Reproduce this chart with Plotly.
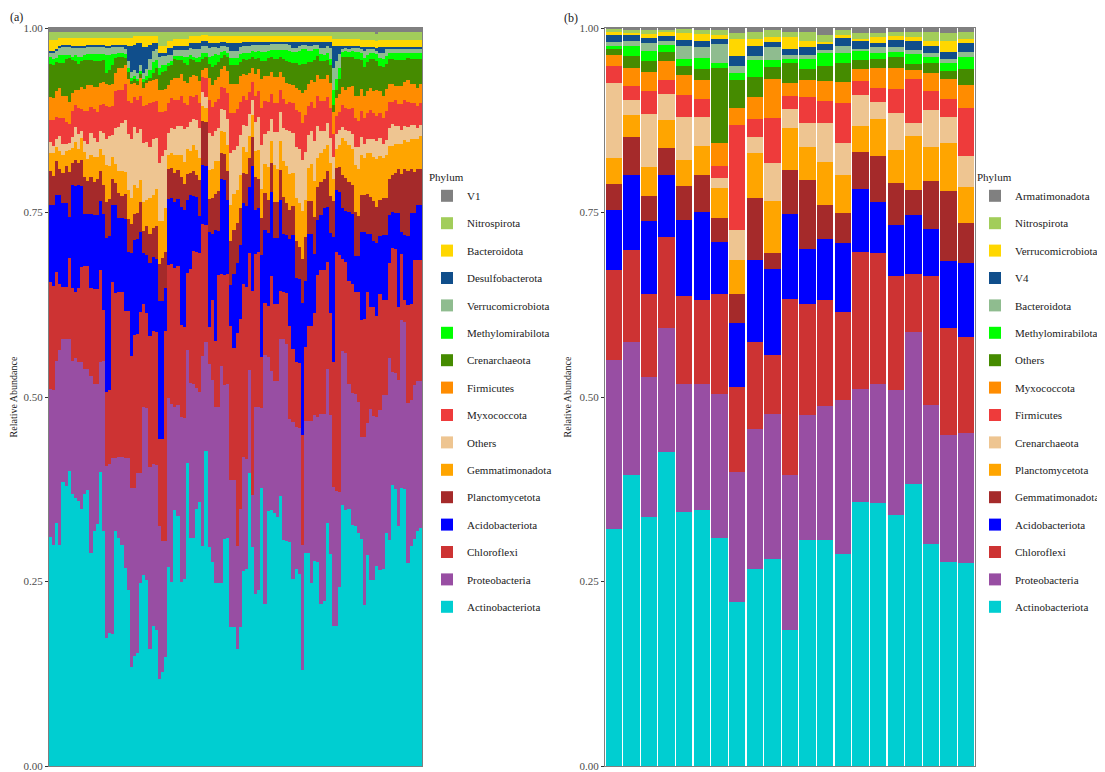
import plotly.graph_objects as go

# ---------------- Panel (a) data: 120 samples ----------------
samples_a = list(range(1, 121))
phyla_a = ["Actinobacteriota", "Proteobacteria", "Chloroflexi", "Acidobacteriota",
           "Planctomycetota", "Gemmatimonadota", "Others", "Myxococcota", "Firmicutes",
           "Crenarchaeota", "Methylomirabilota", "Verrucomicrobiota", "Desulfobacterota",
           "Bacteroidota", "Nitrospirota", "V1"]

a_actino = [0.31,0.30,0.33,0.30,0.385,0.38,0.40,0.37,0.365,0.36,
            0.35,0.37,0.375,0.29,0.32,0.33,0.40,0.32,0.175,0.18,
            0.18,0.32,0.31,0.30,0.27,0.24,0.135,0.15,0.155,0.25,
            0.26,0.255,0.16,0.19,0.185,0.12,0.13,0.15,0.27,0.25,
            0.35,0.34,0.25,0.255,0.415,0.31,0.31,0.35,0.36,0.30,
            0.43,0.30,0.28,0.25,0.25,0.25,0.31,0.31,0.19,0.19,
            0.16,0.19,0.265,0.27,0.40,0.30,0.235,0.24,0.38,0.22,
            0.35,0.35,0.345,0.34,0.37,0.31,0.31,0.31,0.255,0.27,
            0.265,0.13,0.29,0.29,0.25,0.28,0.28,0.22,0.225,0.33,
            0.29,0.19,0.19,0.245,0.355,0.35,0.35,0.33,0.33,0.32,
            0.31,0.22,0.29,0.255,0.255,0.275,0.27,0.27,0.32,0.31,
            0.385,0.38,0.33,0.38,0.38,0.28,0.30,0.31,0.32,0.325]
a_proteo = [0.20,0.21,0.22,0.265,0.195,0.20,0.18,0.18,0.19,0.19,
            0.20,0.17,0.165,0.24,0.20,0.19,0.15,0.23,0.235,0.23,
            0.24,0.10,0.11,0.12,0.15,0.18,0.245,0.23,0.245,0.15,
            0.23,0.235,0.25,0.22,0.225,0.21,0.18,0.16,0.23,0.24,
            0.14,0.15,0.225,0.22,0.155,0.21,0.21,0.165,0.15,0.26,
            0.15,0.25,0.25,0.24,0.24,0.295,0.21,0.21,0.20,0.20,
            0.14,0.16,0.155,0.15,0.14,0.07,0.255,0.25,0.11,0.34,
            0.21,0.19,0.18,0.185,0.215,0.275,0.27,0.17,0.215,0.195,
            0.20,0.17,0.18,0.18,0.22,0.20,0.20,0.26,0.255,0.21,
            0.19,0.19,0.185,0.13,0.21,0.215,0.17,0.18,0.18,0.18,
            0.14,0.23,0.18,0.235,0.225,0.205,0.22,0.24,0.19,0.25,
            0.155,0.16,0.20,0.23,0.23,0.22,0.20,0.21,0.205,0.20]
a_chloro = [0.145,0.14,0.12,0.09,0.07,0.07,0.11,0.10,0.09,0.10,
            0.13,0.14,0.14,0.12,0.13,0.13,0.125,0.07,0.10,0.10,
            0.24,0.225,0.225,0.225,0.20,0.20,0.18,0.21,0.19,0.22,
            0.14,0.13,0.18,0.18,0.18,0.12,0.14,0.29,0.18,0.19,
            0.19,0.19,0.125,0.125,0.105,0.155,0.18,0.185,0.19,0.18,
            0.16,0.05,0.11,0.09,0.18,0.125,0.15,0.15,0.21,0.18,
            0.29,0.26,0.235,0.235,0.16,0.28,0.21,0.21,0.07,0.07,
            0.07,0.13,0.105,0.105,0.065,0.065,0.07,0.13,0.10,0.09,
            0.09,0.15,0.10,0.13,0.13,0.14,0.195,0.195,0.195,0.145,
            0.14,0.17,0.325,0.325,0.125,0.125,0.14,0.15,0.14,0.15,
            0.16,0.16,0.18,0.14,0.15,0.14,0.16,0.13,0.13,0.13,
            0.17,0.17,0.10,0.09,0.03,0.135,0.13,0.17,0.165,0.165]
a_acido = [0.105,0.11,0.105,0.12,0.115,0.115,0.056,0.14,0.145,0.14,
           0.11,0.07,0.07,0.10,0.10,0.10,0.095,0.13,0.21,0.21,
           0.105,0.12,0.10,0.10,0.125,0.08,0.14,0.13,0.13,0.11,
           0.07,0.08,0.10,0.10,0.10,0.19,0.19,0.06,0.09,0.09,
           0.09,0.09,0.16,0.16,0.10,0.10,0.075,0.075,0.05,0.08,
           0.08,0.13,0.09,0.15,0.06,0.13,0.13,0.10,0.055,0.10,
           0.095,0.10,0.11,0.11,0.09,0.17,0.06,0.06,0.14,0.10,
           0.10,0.115,0.09,0.09,0.125,0.08,0.08,0.12,0.155,0.115,
           0.115,0.18,0.09,0.125,0.125,0.08,0.075,0.075,0.085,0.075,
           0.11,0.17,0.085,0.085,0.07,0.07,0.095,0.095,0.05,0.05,
           0.12,0.12,0.08,0.10,0.09,0.10,0.08,0.09,0.09,0.065,
           0.05,0.05,0.13,0.03,0.09,0.095,0.125,0.065,0.075,0.075]
a_plancto = [0.045,0.04,0.045,0.035,0.04,0.05,0.06,0.03,0.035,0.03,
             0.035,0.05,0.045,0.05,0.045,0.05,0.04,0.04,0.05,0.05,
             0.035,0.03,0.035,0.03,0.035,0.045,0.04,0.035,0.035,0.04,
             0.03,0.04,0.04,0.04,0.045,0.05,0.06,0.05,0.04,0.04,
             0.04,0.04,0.04,0.035,0.035,0.03,0.035,0.03,0.05,0.06,
             0.06,0.045,0.05,0.05,0.055,0.035,0.035,0.04,0.06,0.06,
             0.055,0.05,0.04,0.045,0.04,0.04,0.045,0.04,0.05,0.05,
             0.045,0.04,0.05,0.05,0.04,0.05,0.045,0.04,0.04,0.05,
             0.045,0.06,0.06,0.045,0.045,0.05,0.045,0.045,0.04,0.05,
             0.05,0.05,0.03,0.035,0.045,0.045,0.04,0.04,0.06,0.055,
             0.05,0.05,0.055,0.05,0.055,0.05,0.05,0.05,0.05,0.05,
             0.05,0.055,0.06,0.08,0.09,0.09,0.06,0.055,0.05,0.05]
a_gemma = [0.025,0.03,0.02,0.025,0.025,0.02,0.03,0.02,0.025,0.02,
           0.03,0.035,0.03,0.03,0.035,0.03,0.03,0.04,0.05,0.045,
           0.03,0.025,0.03,0.035,0.03,0.04,0.035,0.04,0.035,0.03,
           0.04,0.035,0.05,0.045,0.05,0.06,0.05,0.06,0.02,0.02,
           0.025,0.02,0.03,0.03,0.035,0.03,0.035,0.035,0.03,0.02,
           0.02,0.04,0.04,0.045,0.04,0.03,0.03,0.035,0.05,0.05,
           0.045,0.045,0.035,0.03,0.03,0.03,0.035,0.04,0.04,0.04,
           0.045,0.03,0.05,0.045,0.04,0.05,0.05,0.05,0.045,0.06,
           0.06,0.065,0.05,0.045,0.05,0.05,0.04,0.04,0.04,0.035,
           0.045,0.03,0.025,0.03,0.05,0.05,0.05,0.05,0.065,0.065,
           0.055,0.05,0.055,0.06,0.06,0.065,0.06,0.055,0.06,0.045,
           0.04,0.04,0.035,0.04,0.04,0.04,0.04,0.045,0.04,0.045]
a_others = [0.015,0.01,0.01,0.02,0.015,0.01,0.01,0.015,0.02,0.02,
            0.01,0.015,0.02,0.03,0.025,0.02,0.025,0.03,0.035,0.04,
            0.03,0.05,0.06,0.065,0.07,0.075,0.08,0.08,0.075,0.07,
            0.08,0.08,0.07,0.075,0.07,0.08,0.09,0.08,0.03,0.035,
            0.035,0.04,0.04,0.045,0.03,0.04,0.035,0.04,0.04,0.02,
            0.015,0.05,0.045,0.04,0.045,0.03,0.03,0.035,0.07,0.06,
            0.06,0.055,0.03,0.035,0.03,0.02,0.04,0.045,0.06,0.04,
            0.05,0.03,0.045,0.05,0.04,0.045,0.05,0.06,0.055,0.07,
            0.075,0.07,0.065,0.045,0.045,0.055,0.045,0.03,0.025,0.03,
            0.035,0.03,0.02,0.02,0.015,0.015,0.02,0.02,0.025,0.03,
            0.025,0.02,0.02,0.02,0.025,0.025,0.025,0.02,0.02,0.025,
            0.03,0.025,0.025,0.02,0.02,0.02,0.02,0.02,0.015,0.015]
a_myxo = [0.03,0.035,0.03,0.025,0.035,0.03,0.025,0.035,0.03,0.035,
          0.03,0.04,0.045,0.035,0.04,0.04,0.035,0.04,0.045,0.04,
          0.04,0.05,0.05,0.045,0.05,0.045,0.05,0.04,0.045,0.045,
          0.05,0.05,0.06,0.05,0.05,0.07,0.06,0.055,0.04,0.04,
          0.04,0.035,0.04,0.035,0.03,0.035,0.03,0.035,0.035,0.02,
          0.025,0.045,0.04,0.04,0.04,0.03,0.03,0.035,0.055,0.05,
          0.05,0.045,0.04,0.035,0.03,0.025,0.035,0.035,0.05,0.045,
          0.04,0.035,0.04,0.04,0.03,0.04,0.035,0.04,0.04,0.05,
          0.05,0.05,0.05,0.04,0.04,0.045,0.04,0.04,0.04,0.035,
          0.04,0.03,0.025,0.025,0.03,0.03,0.03,0.035,0.04,0.035,
          0.035,0.035,0.035,0.04,0.035,0.035,0.035,0.035,0.04,0.035,
          0.03,0.035,0.03,0.035,0.035,0.035,0.03,0.03,0.03,0.03]
a_firmi = [0.03,0.03,0.035,0.04,0.03,0.035,0.03,0.025,0.02,0.025,
           0.03,0.03,0.035,0.03,0.03,0.035,0.03,0.03,0.03,0.03,
           0.03,0.025,0.03,0.03,0.025,0.03,0.025,0.02,0.02,0.025,
           0.025,0.03,0.03,0.03,0.03,0.03,0.03,0.03,0.025,0.025,
           0.03,0.03,0.03,0.03,0.03,0.025,0.03,0.025,0.03,0.01,
           0.015,0.03,0.03,0.03,0.03,0.025,0.03,0.03,0.04,0.04,
           0.035,0.035,0.03,0.035,0.025,0.02,0.03,0.03,0.04,0.035,
           0.035,0.03,0.035,0.035,0.025,0.03,0.03,0.025,0.025,0.03,
           0.03,0.04,0.035,0.03,0.03,0.035,0.03,0.03,0.03,0.03,
           0.035,0.03,0.025,0.025,0.025,0.025,0.03,0.03,0.03,0.035,
           0.03,0.03,0.03,0.03,0.03,0.035,0.03,0.03,0.03,0.025,
           0.025,0.02,0.025,0.025,0.025,0.03,0.025,0.025,0.025,0.025]
a_crenar = [0.045,0.045,0.04,0.035,0.045,0.05,0.06,0.045,0.04,0.035,
            0.035,0.04,0.035,0.035,0.035,0.035,0.03,0.03,0.015,0.02,
            0.025,0.02,0.015,0.015,0.01,0.01,0.005,0.005,0.005,0.005,
            0.008,0.005,0.005,0.01,0.015,0.02,0.025,0.025,0.025,0.02,
            0.025,0.025,0.02,0.025,0.025,0.025,0.02,0.02,0.025,0.015,
            0.015,0.02,0.025,0.02,0.02,0.015,0.015,0.02,0.025,0.025,
            0.025,0.02,0.02,0.02,0.02,0.015,0.02,0.015,0.025,0.02,
            0.025,0.02,0.025,0.025,0.02,0.025,0.03,0.03,0.03,0.035,
            0.035,0.04,0.035,0.03,0.025,0.03,0.025,0.025,0.025,0.02,
            0.025,0.01,0.01,0.02,0.04,0.045,0.04,0.04,0.05,0.05,
            0.04,0.04,0.04,0.04,0.045,0.04,0.035,0.04,0.035,0.035,
            0.035,0.035,0.035,0.035,0.03,0.03,0.035,0.035,0.04,0.035]
a_methyl = [0.01,0.008,0.005,0.01,0.01,0.005,0.004,0.004,0.008,0.01,
            0.006,0.006,0.008,0.008,0.01,0.01,0.01,0.008,0.025,0.02,
            0.015,0.005,0.005,0.005,0.005,0.005,0.004,0.004,0.004,0.004,
            0.005,0.005,0.01,0.015,0.01,0.01,0.01,0.008,0.005,0.005,
            0.005,0.005,0.005,0.008,0.01,0.005,0.005,0.005,0.008,0.008,
            0.005,0.01,0.015,0.015,0.01,0.008,0.005,0.005,0.01,0.01,
            0.01,0.01,0.008,0.01,0.008,0.008,0.01,0.01,0.012,0.012,
            0.01,0.01,0.012,0.012,0.01,0.012,0.015,0.015,0.015,0.015,
            0.02,0.02,0.02,0.015,0.015,0.015,0.01,0.01,0.008,0.01,
            0.008,0.02,0.015,0.015,0.008,0.008,0.008,0.008,0.01,0.01,
            0.01,0.012,0.01,0.008,0.008,0.01,0.01,0.012,0.01,0.008,
            0.008,0.01,0.01,0.01,0.01,0.008,0.008,0.008,0.008,0.008]
a_verruco = [0.005,0.008,0.01,0.01,0.012,0.012,0.012,0.012,0.01,0.012,
             0.012,0.01,0.01,0.01,0.01,0.01,0.01,0.01,0.01,0.01,
             0.01,0.01,0.008,0.008,0.008,0.01,0.008,0.008,0.008,0.008,
             0.008,0.01,0.015,0.015,0.015,0.015,0.012,0.012,0.01,0.008,
             0.008,0.008,0.008,0.01,0.01,0.01,0.01,0.012,0.01,0.01,
             0.01,0.012,0.012,0.01,0.01,0.008,0.008,0.008,0.01,0.01,
             0.01,0.01,0.01,0.01,0.01,0.008,0.01,0.008,0.01,0.01,
             0.008,0.008,0.008,0.008,0.008,0.008,0.008,0.008,0.006,0.006,
             0.006,0.006,0.006,0.006,0.006,0.006,0.006,0.008,0.01,0.01,
             0.015,0.03,0.025,0.02,0.004,0.004,0.004,0.004,0.005,0.005,
             0.005,0.01,0.008,0.005,0.005,0.005,0.008,0.008,0.01,0.005,
             0.005,0.005,0.005,0.005,0.005,0.005,0.005,0.005,0.005,0.005]
a_desulfo = [0.003,0.003,0.003,0.002,0.002,0.002,0.002,0.002,0.002,0.002,
             0.002,0.002,0.002,0.002,0.002,0.002,0.002,0.002,0.002,0.002,
             0.003,0.003,0.003,0.003,0.005,0.02,0.035,0.035,0.04,0.03,
             0.035,0.03,0.02,0.01,0.008,0.005,0.004,0.004,0.01,0.01,
             0.005,0.005,0.005,0.005,0.005,0.006,0.008,0.008,0.008,0.006,
             0.006,0.006,0.005,0.005,0.006,0.006,0.005,0.005,0.01,0.01,
             0.01,0.005,0.005,0.005,0.005,0.004,0.004,0.004,0.004,0.004,
             0.004,0.003,0.003,0.003,0.003,0.003,0.003,0.005,0.008,0.008,
             0.006,0.004,0.004,0.006,0.006,0.004,0.004,0.008,0.008,0.005,
             0.008,0.03,0.02,0.01,0.003,0.003,0.003,0.003,0.003,0.003,
             0.003,0.005,0.003,0.003,0.003,0.003,0.008,0.008,0.003,0.003,
             0.003,0.003,0.003,0.003,0.003,0.003,0.003,0.003,0.003,0.003]
a_bactero = [0.015,0.015,0.012,0.012,0.01,0.01,0.01,0.012,0.012,0.012,
             0.012,0.012,0.01,0.01,0.01,0.01,0.01,0.01,0.012,0.012,
             0.01,0.01,0.01,0.01,0.01,0.012,0.012,0.012,0.01,0.01,
             0.015,0.015,0.012,0.01,0.01,0.01,0.01,0.01,0.01,0.01,
             0.01,0.01,0.01,0.01,0.01,0.01,0.01,0.01,0.01,0.008,
             0.008,0.01,0.01,0.01,0.01,0.008,0.008,0.01,0.01,0.01,
             0.01,0.01,0.008,0.008,0.008,0.008,0.008,0.008,0.008,0.008,
             0.008,0.008,0.008,0.008,0.008,0.008,0.008,0.008,0.008,0.008,
             0.008,0.008,0.008,0.008,0.008,0.008,0.008,0.008,0.008,0.008,
             0.008,0.01,0.01,0.01,0.01,0.01,0.01,0.01,0.01,0.01,
             0.01,0.01,0.01,0.01,0.01,0.01,0.01,0.01,0.01,0.01,
             0.01,0.01,0.01,0.01,0.01,0.01,0.01,0.01,0.01,0.01]
a_nitro = [0.01,0.01,0.01,0.008,0.008,0.008,0.008,0.008,0.008,0.008,
           0.008,0.008,0.008,0.008,0.008,0.008,0.008,0.008,0.008,0.008,
           0.008,0.008,0.008,0.008,0.008,0.008,0.008,0.006,0.006,0.006,
           0.006,0.006,0.006,0.006,0.006,0.02,0.02,0.02,0.012,0.012,
           0.01,0.01,0.01,0.01,0.01,0.006,0.006,0.006,0.006,0.005,
           0.005,0.006,0.006,0.006,0.006,0.006,0.006,0.006,0.006,0.006,
           0.006,0.006,0.006,0.006,0.006,0.006,0.006,0.006,0.006,0.006,
           0.006,0.006,0.006,0.006,0.006,0.006,0.006,0.006,0.006,0.006,
           0.006,0.006,0.006,0.006,0.006,0.006,0.006,0.006,0.006,0.006,
           0.006,0.01,0.01,0.01,0.01,0.01,0.01,0.01,0.01,0.01,
           0.01,0.01,0.01,0.01,0.01,0.01,0.01,0.01,0.01,0.01,
           0.01,0.01,0.01,0.01,0.01,0.01,0.01,0.01,0.01,0.01]
a_v1 = [0.006,0.006,0.006,0.005,0.005,0.005,0.005,0.005,0.005,0.005,
        0.005,0.005,0.005,0.005,0.005,0.005,0.005,0.005,0.005,0.005,
        0.005,0.005,0.005,0.005,0.005,0.005,0.005,0.005,0.005,0.005,
        0.005,0.005,0.005,0.005,0.005,0.005,0.005,0.005,0.005,0.005,
        0.005,0.005,0.005,0.005,0.005,0.005,0.005,0.005,0.005,0.005,
        0.005,0.005,0.005,0.005,0.005,0.005,0.005,0.005,0.005,0.005,
        0.005,0.005,0.005,0.005,0.005,0.005,0.005,0.005,0.005,0.005,
        0.005,0.005,0.005,0.005,0.005,0.005,0.005,0.005,0.005,0.005,
        0.005,0.005,0.005,0.005,0.005,0.005,0.005,0.005,0.005,0.005,
        0.005,0.005,0.005,0.005,0.005,0.005,0.005,0.005,0.005,0.005,
        0.006,0.006,0.006,0.006,0.006,0.008,0.006,0.006,0.006,0.006,
        0.006,0.006,0.006,0.006,0.006,0.006,0.006,0.006,0.006,0.006]

# ---------------- Panel (b) data: 21 samples ----------------
samples_b = list(range(1, 22))
phyla_b = ["Actinobacteriota", "Proteobacteria", "Chloroflexi", "Acidobacteriota",
           "Gemmatimonadota", "Planctomycetota", "Crenarchaeota", "Firmicutes",
           "Myxococcota", "Others", "Methylomirabilota", "Bacteroidota", "V4",
           "Verrucomicrobiota", "Nitrospirota", "Armatimonadota"]

b_actino = [0.321,0.393,0.337,0.425,0.344,0.347,0.309,0.223,0.267,0.281,0.184,
            0.306,0.306,0.287,0.358,0.357,0.341,0.383,0.301,0.276,0.275]
b_proteo = [0.229,0.180,0.190,0.168,0.172,0.171,0.194,0.176,0.189,0.196,0.209,
            0.170,0.181,0.209,0.153,0.161,0.169,0.206,0.188,0.172,0.176]
b_chloro = [0.122,0.125,0.113,0.123,0.120,0.113,0.135,0.115,0.119,0.081,0.239,
            0.150,0.143,0.120,0.185,0.178,0.155,0.079,0.176,0.146,0.131]
b_acido = [0.080,0.101,0.099,0.084,0.102,0.120,0.070,0.087,0.111,0.116,0.115,
           0.075,0.082,0.093,0.085,0.069,0.070,0.080,0.064,0.090,0.100]
b_gemma = [0.036,0.051,0.034,0.036,0.046,0.050,0.033,0.039,0.084,0.022,0.059,
           0.094,0.047,0.041,0.050,0.063,0.057,0.033,0.064,0.095,0.054]
b_plancto = [0.035,0.031,0.039,0.038,0.035,0.039,0.040,0.047,0.060,0.070,0.057,
             0.044,0.058,0.052,0.035,0.049,0.044,0.074,0.047,0.065,0.049]
b_crenar = [0.102,0.019,0.071,0.036,0.058,0.040,0.014,0.040,0.022,0.052,0.026,
            0.033,0.052,0.043,0.042,0.023,0.051,0.017,0.050,0.035,0.042]
b_firmi = [0.022,0.020,0.031,0.018,0.031,0.024,0.016,0.142,0.025,0.061,0.017,
           0.035,0.030,0.054,0.019,0.020,0.032,0.060,0.026,0.025,0.065]
b_myxo = [0.015,0.024,0.026,0.026,0.026,0.026,0.031,0.024,0.029,0.053,0.018,
          0.023,0.027,0.029,0.017,0.027,0.029,0.012,0.024,0.027,0.032]
b_others = [0.008,0.016,0.015,0.013,0.013,0.014,0.102,0.037,0.027,0.016,0.026,
            0.015,0.020,0.025,0.012,0.012,0.015,0.008,0.014,0.011,0.021]
b_methyl = [0.005,0.013,0.014,0.009,0.009,0.015,0.007,0.010,0.024,0.010,0.006,
            0.014,0.018,0.014,0.012,0.008,0.007,0.014,0.008,0.011,0.016]
b_bactero = [0.005,0.007,0.011,0.005,0.018,0.015,0.026,0.010,0.005,0.017,0.005,
             0.006,0.004,0.009,0.003,0.008,0.006,0.005,0.005,0.005,0.007]
b_v4 = [0.010,0.008,0.007,0.007,0.008,0.008,0.006,0.013,0.014,0.007,0.009,
        0.010,0.008,0.011,0.010,0.006,0.010,0.013,0.009,0.010,0.012]
b_verruco = [0.003,0.003,0.005,0.005,0.009,0.010,0.006,0.023,0.009,0.007,0.016,
             0.009,0.003,0.005,0.003,0.008,0.005,0.005,0.007,0.015,0.006]
b_nitro = [0.005,0.005,0.006,0.004,0.006,0.006,0.006,0.008,0.009,0.010,0.006,
           0.012,0.010,0.006,0.008,0.005,0.005,0.006,0.012,0.010,0.010]
b_armati = [0.001,0.002,0.002,0.002,0.001,0.002,0.003,0.007,0.006,0.002,0.006,
            0.005,0.009,0.003,0.007,0.007,0.006,0.006,0.006,0.007,0.005]

# colours by stack position (bottom -> top)
palette = ["#00CED1", "#984EA3", "#CD3333", "#0000FF", "#A52A2A", "#FFA500",
           "#EEC591", "#EE3B3B", "#FF8C00", "#458B00", "#00FF00", "#8FBC8F",
           "#104E8B", "#FFD700", "#A2CD5A", "#808080"]

values_a = [a_actino, a_proteo, a_chloro, a_acido, a_plancto, a_gemma, a_others,
            a_myxo, a_firmi, a_crenar, a_methyl, a_verruco, a_desulfo, a_bactero,
            a_nitro, a_v1]
values_b = [b_actino, b_proteo, b_chloro, b_acido, b_gemma, b_plancto, b_crenar,
            b_firmi, b_myxo, b_others, b_methyl, b_bactero, b_v4, b_verruco,
            b_nitro, b_armati]

SERIF = "Liberation Serif"
fig = go.Figure()

for i, (name, vals) in enumerate(zip(phyla_a, values_a)):
    fig.add_trace(go.Bar(
        x=samples_a, y=vals, name=name, marker=dict(color=palette[i], line=dict(width=0)),
        width=1.0, xaxis="x", yaxis="y", legend="legend", legendgroup="a%d" % i,
        legendrank=1000 - i,
    ))
for i, (name, vals) in enumerate(zip(phyla_b, values_b)):
    fig.add_trace(go.Bar(
        x=samples_b, y=vals, name=name, marker=dict(color=palette[i], line=dict(width=0)),
        width=0.93, xaxis="x2", yaxis="y2", legend="legend2", legendgroup="b%d" % i,
        legendrank=1000 - i,
    ))

# the page body adds an 8px offset; figure is sized to fit the window
OFF = 8
W, H = 1105 - OFF, 772 - OFF


def px(x):
    return (x - OFF) / W


def py(y):
    return 1 - (y - OFF) / H


yaxis_common = dict(
    range=[0, 1], tickvals=[0, 0.25, 0.5, 0.75, 1.0],
    ticktext=["0.00", "0.25", "0.50", "0.75", "1.00"],
    ticks="outside", ticklen=3, tickcolor="#333333",
    tickfont=dict(family=SERIF, size=11, color="#4D4D4D"),
    showline=True, linecolor="#7F7F7F", linewidth=1, mirror=True,
    showgrid=False, zeroline=False, automargin=False,
    title=dict(text="Relative Abundance", font=dict(family=SERIF, size=10, color="#1A1A1A"), standoff=6),
    domain=[py(766), py(28)],
)
xaxis_common = dict(showticklabels=False, ticks="", showgrid=False, zeroline=False,
                    showline=True, linecolor="#7F7F7F", linewidth=1, mirror=True,
                    automargin=False)

legend_common = dict(
    font=dict(family=SERIF, size=11, color="#1A1A1A"),
    title=dict(text="Phylum", font=dict(family=SERIF, size=11, color="#1A1A1A")),
    traceorder="grouped", tracegroupgap=8.4,
    xanchor="left", yanchor="top", bgcolor="rgba(0,0,0,0)",
)

fig.update_layout(
    width=W, height=H, margin=dict(l=0, r=0, t=0, b=0, autoexpand=False),
    paper_bgcolor="white", plot_bgcolor="white",
    barmode="stack", barnorm="fraction", bargap=0,
    xaxis=dict(xaxis_common, domain=[px(49), px(422)], range=[0.5, 120.5]),
    yaxis=dict(yaxis_common, anchor="x"),
    xaxis2=dict(xaxis_common, domain=[px(605), px(975)], range=[0.5, 21.5], anchor="y2"),
    yaxis2=dict(yaxis_common, anchor="x2"),
    legend=dict(legend_common, x=px(427), y=py(167)),
    legend2=dict(legend_common, x=px(975), y=py(167)),
    annotations=[
        dict(text="(a)", x=px(8), y=py(8), xref="paper", yref="paper", showarrow=False,
             xanchor="left", yanchor="top", font=dict(family=SERIF, size=12, color="#1A1A1A")),
        dict(text="(b)", x=px(562), y=py(9), xref="paper", yref="paper", showarrow=False,
             xanchor="left", yanchor="top", font=dict(family=SERIF, size=12, color="#1A1A1A")),
    ],
)

fig.write_html("out.html")
